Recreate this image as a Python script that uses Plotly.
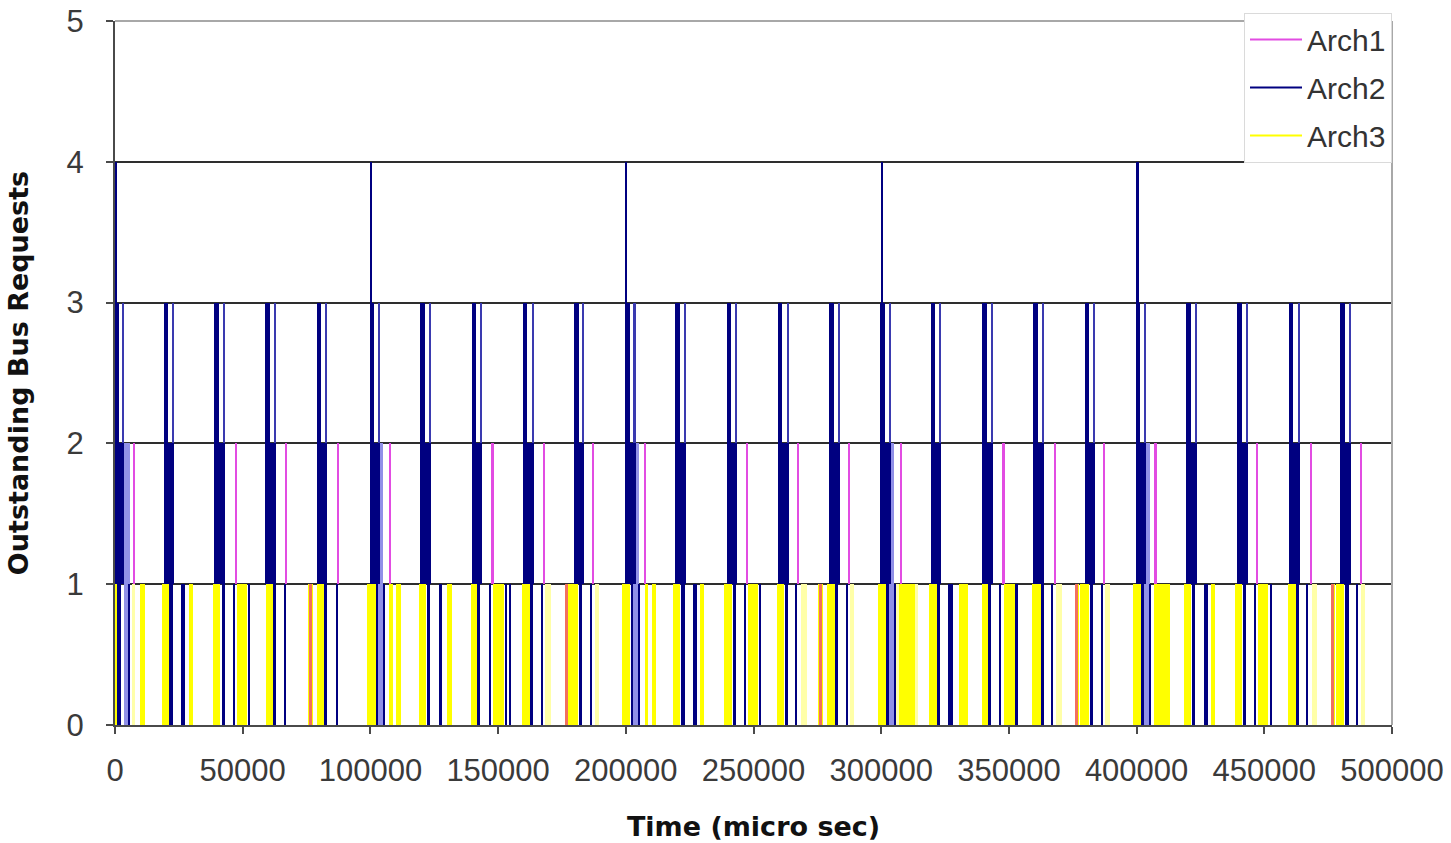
import plotly.graph_objects as go

# ---------------- data (times in micro seconds, levels = outstanding requests) ----------------
x_ticks = [0, 50000, 100000, 150000, 200000, 250000, 300000, 350000, 400000, 450000, 500000]
y_ticks = [0, 1, 2, 3, 4, 5]
series_names = ["Arch1", "Arch2", "Arch3"]

# Arch2: level 1 -> 2 occupancy bursts (start, end)
arch2_mid_bands = [(0, 3400), (19000, 23000), (38800, 42900), (58900, 63100), (78900, 83200),
                   (99700, 103800), (119400, 123700), (139600, 143700), (159600, 163900), (179700, 183800),
                   (199700, 203800), (219300, 223600), (239500, 243700), (259500, 263800), (279600, 283800),
                   (299700, 303900), (319400, 323600), (339500, 343700), (359600, 363900), (379700, 383800),
                   (399700, 403800), (419400, 423600), (439500, 443700), (459600, 463900), (479600, 483800)]
# Arch2: rising edge 2 -> 3
arch2_up_rise = [(0, 1400), (19000, 20900), (38800, 40700), (58900, 60700), (78900, 80800),
                 (99700, 101500), (119400, 121300), (139600, 141400), (159600, 161500), (179700, 181500),
                 (199700, 201500), (219300, 221200), (239500, 241300), (259500, 261300), (279600, 281400),
                 (299700, 301500), (319400, 321200), (339500, 341300), (359600, 361400), (379700, 381500),
                 (399700, 401500), (419400, 421200), (439500, 441300), (459600, 461400), (479600, 481400)]
# Arch2: falling edge 3 -> 2
arch2_up_fall = [(2600, 3400), (22200, 23000), (42100, 42900), (62300, 63100), (82400, 83200),
                 (103000, 103800), (122900, 123700), (142900, 143700), (163100, 163900), (183000, 183800),
                 (203000, 203800), (222800, 223600), (242900, 243700), (263000, 263800), (283000, 283800),
                 (303100, 303900), (322800, 323600), (342900, 343700), (363100, 363900), (383000, 383800),
                 (403000, 403800), (422800, 423600), (442900, 443700), (463100, 463900), (483000, 483800)]
# Arch2: peaks at 4
arch2_peak4 = [(0, 900), (99800, 100700), (199700, 200600), (299900, 300800), (399900, 400800)]
# Arch2: transitions between 0 and 1
arch2_low_bands = [(800, 2300), (21300, 22800), (41800, 42900), (62000, 63000), (82000, 83000),
                   (102000, 102800), (122000, 123400), (141800, 143000), (162600, 163800), (181600, 183000),
                   (201900, 202900), (221800, 223000), (241900, 243000), (262300, 263500), (281800, 283000),
                   (302000, 302900), (321800, 323100), (341800, 343000), (362400, 363600), (381700, 383000),
                   (401900, 402900), (421800, 423000), (441800, 443000), (462400, 463600), (481700, 483000),
                   (26000, 27300), (126700, 128000), (226500, 227800), (326300, 328000), (426500, 427800),
                   (46300, 46800), (66500, 67000), (86600, 87100), (146500, 147300), (166800, 167400),
                   (186100, 186800), (246300, 246800), (266600, 267100), (286600, 287100), (346400, 347100),
                   (366800, 367400), (386100, 386800), (446300, 446900), (466700, 467300), (486100, 486800),
                   (52100, 52800), (152600, 153600), (154300, 154700), (252300, 253100), (352500, 353400),
                   (452400, 453200),
                   (5100, 5600), (105000, 105500), (205100, 205600), (305200, 305700), (405100, 405600)]
# Arch2: dense mixed activity between 0 and 2
arch2_mixed_bands = [(3500, 5800), (102800, 105000), (203000, 205100), (303100, 305200), (403000, 405100)]

# Arch1: short peaks 1 -> 2
arch1_mid_bands = [(6900, 7700), (46800, 47600), (66600, 67400), (86900, 87700), (107200, 108000),
                   (147300, 148200), (167500, 168300), (186900, 187700), (207000, 207800), (246900, 247700),
                   (267000, 267800), (287000, 287800), (307300, 308300), (347400, 348300), (367500, 368300),
                   (386900, 387700), (407000, 407800), (446900, 447700), (467800, 468700), (487500, 488400)]
# Arch1: activity between 0 and 1 (seen blended with Arch3)
arch1_low_bands = [(75800, 77000), (176300, 177400), (275700, 276900), (376000, 377200), (476300, 477300)]

# Arch3: activity between 0 and 1
arch3_low_bands = [(0, 1500), (18500, 21000), (38400, 41300), (59200, 62000), (79000, 81900),
                   (98600, 102000), (118900, 121800), (139500, 142000), (159300, 162500), (177900, 181200),
                   (198600, 201800), (218600, 221200), (238500, 241400), (259200, 262000), (278900, 281800),
                   (298700, 302100), (318800, 321800), (339500, 342000), (359200, 362400), (378000, 381200),
                   (398600, 401800), (418600, 421200), (438500, 441400), (459200, 462400), (478000, 481200),
                   (9800, 11800), (28800, 30600), (47600, 51600), (107400, 108700), (110100, 111800),
                   (129900, 131900), (148100, 152400), (207400, 208700), (210100, 211900), (229000, 230700),
                   (247700, 251600), (307000, 313200), (330600, 333800), (348000, 352400),
                   (407000, 413000), (429000, 430700), (447700, 451600),
                   (75400, 77400), (176000, 177700), (275400, 277300), (375700, 377600), (476000, 477600)]
arch3_faint_bands = [(6600, 7800), (168400, 170800), (187800, 189400), (268500, 270800), (287800, 289400),
                     (305800, 307000), (313200, 314300), (368500, 370800), (387800, 389400),
                     (468500, 470800), (488000, 489400)]

# ---------------- styles ----------------
C_ARCH1 = "#e24ce2"
C_ARCH2 = "#000080"
C_ARCH3 = "#ffff00"


def band_trace(bands, lo, hi, color, opacity=1.0):
    xs = [(s + e) / 2 for s, e in bands]
    ws = [e - s for s, e in bands]
    return go.Bar(x=xs, y=[hi - lo] * len(bands), base=[lo] * len(bands), width=ws,
                  marker=dict(color=color, line=dict(width=0)), opacity=opacity,
                  showlegend=False, hoverinfo="skip")


fig = go.Figure()

# legend entries
for name, col in zip(series_names, [C_ARCH1, C_ARCH2, C_ARCH3]):
    fig.add_trace(go.Scatter(x=[None], y=[None], mode="lines", name=name, legendgroup=name,
                             line=dict(color=col, width=2)))

# Arch3 (drawn first, underneath)
fig.add_trace(band_trace(arch3_faint_bands, 0, 1, "#ffffa8"))
fig.add_trace(band_trace(arch3_low_bands, 0, 1, C_ARCH3))
# Arch2
fig.add_trace(band_trace(arch2_mixed_bands, 0, 2, "#9090e8"))
fig.add_trace(band_trace(arch2_low_bands, 0, 1, C_ARCH2))
fig.add_trace(band_trace(arch2_mid_bands, 1, 2, C_ARCH2))
fig.add_trace(band_trace(arch2_up_rise, 2, 3, C_ARCH2))
fig.add_trace(band_trace(arch2_up_fall, 2, 3, "#3a3ab0"))
fig.add_trace(band_trace(arch2_peak4, 3, 4, C_ARCH2))
# Arch1
fig.add_trace(band_trace(arch1_low_bands, 0, 1, "#f2705e"))
fig.add_trace(band_trace(arch1_mid_bands, 1, 2, C_ARCH1))

tick_font = dict(family="Liberation Sans, Arial, sans-serif", size=31, color="#3a3a3a")
title_font = dict(family="DejaVu Sans, Verdana, sans-serif", size=27, color="#111111")

fig.update_layout(
    width=1451, height=843,
    margin=dict(l=115, r=59, t=21, b=118, autoexpand=False),
    paper_bgcolor="white", plot_bgcolor="white",
    barmode="overlay", bargap=0,
    showlegend=True,
    legend=dict(x=1, xanchor="right", y=1.012, yanchor="top",
                bgcolor="white", bordercolor="#dadada", borderwidth=1,
                font=dict(family="Liberation Sans, Arial, sans-serif", size=30, color="#333333"),
                traceorder="grouped", tracegroupgap=6, itemwidth=52),
    xaxis=dict(range=[0, 500000], tickvals=x_ticks, ticktext=[str(v) for v in x_ticks],
               showgrid=False, zeroline=False, showline=True, linecolor="#4a4a4a", linewidth=2,
               ticks="outside", ticklen=7, tickwidth=2, tickcolor="#4a4a4a",
               tickfont=tick_font, ticklabelstandoff=10,
               title=dict(text="<b>Time (micro sec)</b>", font=title_font, standoff=30)),
    yaxis=dict(range=[0, 5], tickvals=y_ticks, ticktext=[str(v) for v in y_ticks],
               showgrid=True, gridcolor="#2e2e2e", gridwidth=2, zeroline=False,
               showline=True, linecolor="#4a4a4a", linewidth=2,
               ticks="outside", ticklen=7, tickwidth=2, tickcolor="#4a4a4a",
               tickfont=tick_font, ticklabelstandoff=16,
               title=dict(text="<b>Outstanding Bus Requests</b>", font=title_font, standoff=30)),
    shapes=[
        dict(type="line", xref="paper", yref="paper", x0=0, x1=1, y0=1, y1=1,
             line=dict(color="#a8a8a8", width=2), layer="above"),
        dict(type="line", xref="paper", yref="paper", x0=1, x1=1, y0=0, y1=1,
             line=dict(color="#a8a8a8", width=2), layer="above"),
    ],
)

fig.write_html("out.html", config={"displayModeBar": False},
               post_script="document.body.style.margin='0';")
